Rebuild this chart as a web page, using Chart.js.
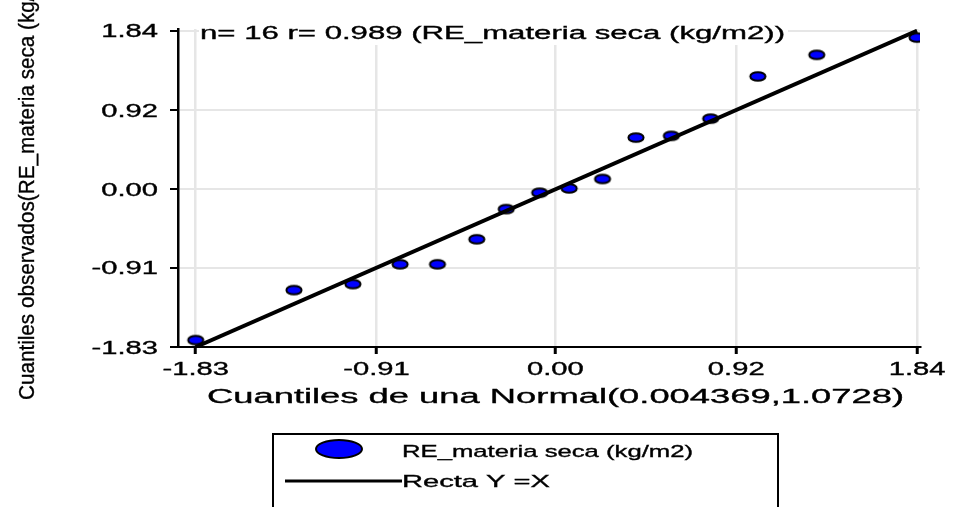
<!DOCTYPE html>
<html>
<head>
<meta charset="utf-8">
<script src="https://cdn.jsdelivr.net/npm/chart.js"></script>
<style>
  html, body { margin: 0; padding: 0; background: #fff; overflow: hidden; }
  canvas { display: block; }
</style>
</head>
<body>
<canvas id="qq" width="953" height="507"></canvas>
<script>
// Q-Q plot: RE_materia seca (kg/m2)
const xQuant  = [-1.83, -1.33, -1.03, -0.79, -0.60, -0.40, -0.25, -0.08, 0.07, 0.24, 0.41, 0.59, 0.79, 1.03, 1.33, 1.84];
const yObs    = [-1.75, -1.17, -1.10, -0.87, -0.87, -0.58, -0.23, -0.04, 0.01, 0.12, 0.60, 0.62, 0.82, 1.31, 1.56, 1.76];
const lineX   = [-1.83, 1.84];
const lineY   = [-1.83, 1.84];
const xTicks  = [-1.83, -0.91, 0.00, 0.92, 1.84];
const yTicks  = [-1.83, -0.91, 0.00, 0.92, 1.84];

const TITLE   = "n= 16 r= 0.989 (RE_materia seca (kg/m2))";
const X_TITLE = "Cuantiles de una Normal(0.004369,1.0728)";
const Y_TITLE = "Cuantiles observados(RE_materia seca (kg/m2))";
const SERIES  = "RE_materia seca (kg/m2)";
const LINE_LB = "Recta Y =X";

const FONT  = '"Liberation Sans", Arial, sans-serif';
const BLUE  = "#0000ff";
const GRID  = "#e6e6e6";

// oval marker (the source picture is stretched horizontally)
function makeDot(rx, ry) {
  const c = document.createElement("canvas");
  c.width  = Math.ceil(rx * 2 + 4);
  c.height = Math.ceil(ry * 2 + 4);
  const g = c.getContext("2d");
  g.beginPath();
  g.ellipse(c.width / 2, c.height / 2, rx, ry, 0, 0, Math.PI * 2);
  g.fillStyle = BLUE;
  g.fill();
  g.lineWidth = 2;
  g.strokeStyle = "#000";
  g.stroke();
  return c;
}

function drawText(ctx, str, size, sx, align) {
  ctx.font = size + "px " + FONT;
  ctx.scale(sx, 1);
  ctx.textAlign = align || "left";
  ctx.textBaseline = "alphabetic";
  ctx.fillStyle = "#000";
  ctx.strokeStyle = "#000";
  ctx.lineWidth = 0.35;
  ctx.fillText(str, 0, 0);
  ctx.strokeText(str, 0, 0);
}

// text squeezed / stretched to a given width
function fitText(ctx, str, x, y, size, width, align) {
  ctx.save();
  ctx.font = size + "px " + FONT;
  const sx = width / ctx.measureText(str).width;
  ctx.translate(x, y);
  drawText(ctx, str, size, sx, align);
  ctx.restore();
}

function scaledText(ctx, str, x, y, size, sx, align) {
  ctx.save();
  ctx.translate(x, y);
  drawText(ctx, str, size, sx, align);
  ctx.restore();
}

const titleBox = {
  id: "titleBox",
  beforeDatasetsDraw(chart) {
    const ctx = chart.ctx;
    ctx.save();
    ctx.fillStyle = "#fff";
    ctx.fillRect(199, 18, 589, 27);
    ctx.restore();
    fitText(ctx, TITLE, 200, 39, 18, 585, "left");
  }
};

const labels = {
  id: "labels",
  afterDraw(chart) {
    const ctx = chart.ctx;
    const xs = chart.scales.x;
    const ys = chart.scales.y;

    // tick labels
    yTicks.forEach(v => {
      scaledText(ctx, v.toFixed(2), 158, ys.getPixelForValue(v) + 6.5, 18, 1.62, "right");
    });
    xTicks.forEach(v => {
      scaledText(ctx, v.toFixed(2), xs.getPixelForValue(v), 375, 18, 1.62, "center");
    });

    // axis titles
    fitText(ctx, X_TITLE, 207, 403, 20, 697, "left");

    ctx.save();
    ctx.translate(34, 400);
    ctx.rotate(-Math.PI / 2);
    drawText(ctx, Y_TITLE, 22, 0.94, "left");
    ctx.restore();

    // legend
    ctx.save();
    ctx.strokeStyle = "#000";
    ctx.lineWidth = 2;
    ctx.strokeRect(273, 434, 505, 90);

    ctx.beginPath();
    ctx.ellipse(339, 449, 23, 9, 0, 0, Math.PI * 2);
    ctx.fillStyle = BLUE;
    ctx.fill();
    ctx.lineWidth = 2;
    ctx.stroke();

    ctx.beginPath();
    ctx.moveTo(285, 481);
    ctx.lineTo(402, 481);
    ctx.lineWidth = 3;
    ctx.stroke();
    ctx.restore();

    fitText(ctx, SERIES, 402, 457, 17, 291, "left");
    fitText(ctx, LINE_LB, 402, 487, 17, 148, "left");
  }
};

const setTicks = vals => scale => { scale.ticks = vals.map(v => ({ value: v })); };

new Chart(document.getElementById("qq"), {
  type: "scatter",
  data: {
    datasets: [
      {
        label: LINE_LB,
        data: lineX.map((x, i) => ({ x, y: lineY[i] })),
        showLine: true,
        borderColor: "#000",
        borderWidth: 4,
        pointRadius: 0,
        fill: false
      },
      {
        label: SERIES,
        data: xQuant.map((x, i) => ({ x, y: yObs[i] })),
        pointStyle: makeDot(7.6, 4.3),
        pointRadius: 8,
        showLine: false
      }
    ]
  },
  options: {
    responsive: false,
    animation: false,
    devicePixelRatio: 1,
    layout: { padding: { top: 29, right: 33, left: 0, bottom: 0 } },
    plugins: {
      legend: { display: false },
      title: { display: false },
      tooltip: { enabled: false }
    },
    scales: {
      x: {
        type: "linear",
        min: -1.92,
        max: 1.855,
        afterBuildTicks: setTicks(xTicks),
        afterFit: s => { s.height = 160; },
        ticks: { display: false },
        grid: { color: GRID, lineWidth: 2.5, tickColor: "#000", tickWidth: 3, tickLength: 7 },
        border: { color: "#000", width: 2 }
      },
      y: {
        type: "linear",
        min: -1.83,
        max: 1.86,
        afterBuildTicks: setTicks(yTicks),
        afterFit: s => { s.width = 178; },
        ticks: { display: false },
        grid: { color: GRID, lineWidth: 2, tickColor: "#000", tickWidth: 2, tickLength: 8 },
        border: { color: "#000", width: 2.5 }
      }
    }
  },
  plugins: [titleBox, labels]
});
</script>
</body>
</html>
